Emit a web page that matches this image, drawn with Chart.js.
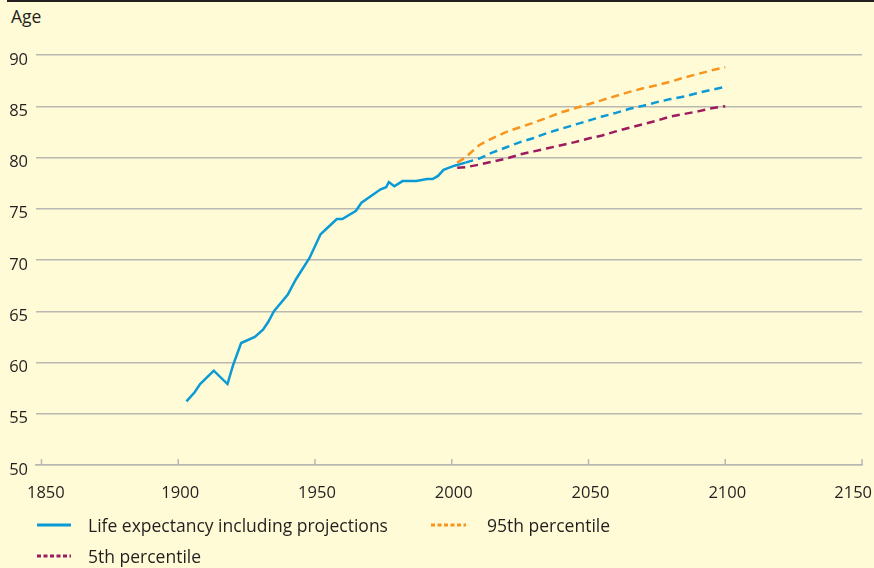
<!DOCTYPE html>
<html lang="en">

<head>
    <meta charset="UTF-8">
    <title>Life expectancy</title>
    <script src="https://cdn.jsdelivr.net/npm/chart.js"></script>
    <style>
        html, body {
            margin: 0;
            padding: 0;
            background-color: #fffbd6;
        }

        .wrap {
            position: relative;
            width: 874px;
            height: 568px;
            overflow: hidden;
            font-family: "Open Sans", sans-serif;
            color: #231f20;
        }

        .topbar {
            position: absolute;
            left: 7px;
            right: 0;
            top: 0;
            height: 2px;
            background: #231f20;
        }

        .ylabel {
            position: absolute;
            left: 11px;
            top: 4px;
            font-size: 17.5px;
        }

        .legend-item {
            position: absolute;
            font-size: 17.5px;
            line-height: 20px;
            white-space: nowrap;
        }

        .legend-item svg {
            position: absolute;
            left: 0;
            top: 8px;
        }

        .legend-item span {
            position: absolute;
            top: 0;
        }

        canvas {
            position: absolute;
            left: 0;
            top: 0;
        }
    </style>
</head>

<body>

    <div class="wrap">
        <div class="topbar"></div>
        <div class="ylabel">Age</div>
        <canvas id="myChart" width="874" height="568"></canvas>

        <!-- legend -->
        <div class="legend-item" style="left:37px; top:515px;">
            <svg width="36" height="4"><line x1="0" y1="2" x2="34" y2="2" stroke="#0b9ad6" stroke-width="3" /></svg>
            <span style="left:51px;">Life expectancy including projections</span>
        </div>
        <div class="legend-item" style="left:431px; top:515px;">
            <svg width="36" height="4"><line x1="0" y1="2" x2="35" y2="2" stroke="#f7941d" stroke-width="3" stroke-dasharray="4 2.5" /></svg>
            <span style="left:56px;">95th percentile</span>
        </div>
        <div class="legend-item" style="left:37px; top:546px;">
            <svg width="36" height="4"><line x1="0" y1="2" x2="34" y2="2" stroke="#9b1b5e" stroke-width="3" stroke-dasharray="4 2.5" /></svg>
            <span style="left:51px;">5th percentile</span>
        </div>
    </div>

    <script>
        // observed life expectancy
        const histYears = [1903, 1906, 1908, 1913, 1918, 1920, 1923, 1928, 1931, 1933, 1935, 1940, 1943, 1948,
            1952, 1954, 1958, 1960, 1965, 1967, 1974, 1976, 1977, 1979, 1982, 1987, 1991, 1993, 1995, 1997, 2001, 2005];
        const histAges = [56.2, 57.1, 57.9, 59.2, 57.9, 59.7, 61.9, 62.5, 63.2, 64.0, 65.0, 66.6, 68.1, 70.2,
            72.5, 73.0, 74.0, 74.0, 74.8, 75.6, 76.9, 77.1, 77.6, 77.2, 77.7, 77.7, 77.9, 77.9, 78.2, 78.8, 79.2, 79.5];

        // projections
        const projYears = [2002, 2005, 2010, 2015, 2020, 2025, 2030, 2035, 2040, 2045, 2050,
            2055, 2060, 2065, 2070, 2075, 2080, 2085, 2090, 2095, 2100];
        const projMid = [null, 79.5, 79.9, 80.5, 81.0, 81.5, 81.9, 82.4, 82.8, 83.2, 83.6,
            84.0, 84.35, 84.75, 85.05, 85.4, 85.7, 85.95, 86.3, 86.6, 86.9];
        const proj95 = [79.5, 80.0, 81.2, 81.9, 82.5, 82.95, 83.4, 83.9, 84.4, 84.8, 85.2,
            85.6, 86.0, 86.4, 86.75, 87.05, 87.4, 87.8, 88.15, 88.5, 88.8];
        const proj5 = [79.0, 79.05, 79.3, 79.6, 79.9, 80.3, 80.6, 80.9, 81.2, 81.5, 81.85,
            82.15, 82.55, 82.9, 83.25, 83.6, 84.0, 84.25, 84.5, 84.8, 85.0];

        const xTicks = [1850, 1900, 1950, 2000, 2050, 2100, 2150];

        const blue = '#0b9ad6';
        const orange = '#f7941d';
        const maroon = '#9b1b5e';
        const gridColor = '#b9b8b2';
        const textColor = '#231f20';

        const pts = (xs, ys) => xs.map((x, i) => ({ x: x, y: ys[i] }));

        // x labels and small upward tick marks, drawn by hand so end labels stay inside
        const xAxisMarks = {
            id: 'xAxisMarks',
            afterDraw(chart) {
                const { ctx, chartArea, scales: { x } } = chart;
                ctx.save();
                ctx.strokeStyle = gridColor;
                ctx.lineWidth = 1.5;
                ctx.fillStyle = textColor;
                ctx.font = '16.5px "Open Sans"';
                ctx.textAlign = 'center';
                ctx.textBaseline = 'middle';
                xTicks.forEach(v => {
                    const px = x.getPixelForValue(v);
                    ctx.beginPath();
                    ctx.moveTo(px, chartArea.bottom);
                    ctx.lineTo(px, chartArea.bottom - 6);
                    ctx.stroke();
                    const w = ctx.measureText(String(v)).width;
                    const lx = Math.min(Math.max(px + 2, 27 + w / 2), 872 - w / 2);
                    ctx.fillText(String(v), lx, 493);
                });
                ctx.restore();
            }
        };

        const ctx = document.getElementById('myChart').getContext('2d');
        new Chart(ctx, {
            type: 'line',
            data: {
                datasets: [
                    {
                        label: '95th percentile',
                        data: pts(projYears, proj95),
                        borderColor: orange,
                        borderWidth: 2.5,
                        borderDash: [8, 5]
                    },
                    {
                        label: '5th percentile',
                        data: pts(projYears, proj5),
                        borderColor: maroon,
                        borderWidth: 2.5,
                        borderDash: [8, 5]
                    },
                    {
                        label: 'Projection',
                        data: pts(projYears, projMid),
                        borderColor: blue,
                        borderWidth: 2.5,
                        borderDash: [8, 5]
                    },
                    {
                        label: 'Life expectancy including projections',
                        data: pts(histYears, histAges),
                        borderColor: blue,
                        borderWidth: 2.5
                    }
                ]
            },
            options: {
                responsive: false,
                animation: false,
                layout: {
                    padding: { top: 55, left: 0, right: 12, bottom: 0 }
                },
                elements: {
                    point: { radius: 0 },
                    line: { tension: 0, fill: false }
                },
                plugins: {
                    legend: { display: false },
                    tooltip: { enabled: false }
                },
                scales: {
                    x: {
                        type: 'linear',
                        min: 1848,
                        max: 2150,
                        ticks: { display: false },
                        grid: { drawOnChartArea: false, drawTicks: false },
                        border: { display: true, color: gridColor, width: 1.5 },
                        afterFit: scale => {
                            scale.height = 103;
                            scale.paddingLeft = 0;
                            scale.paddingRight = 0;
                        }
                    },
                    y: {
                        min: 50,
                        max: 90,
                        ticks: {
                            stepSize: 5,
                            padding: 8,
                            labelOffset: 5,
                            color: textColor,
                            font: { family: 'Open Sans', size: 16.5 }
                        },
                        grid: { color: gridColor, lineWidth: 1.5, drawTicks: false },
                        border: { display: false },
                        afterFit: scale => {
                            scale.width = 36;
                        }
                    }
                }
            },
            plugins: [xAxisMarks]
        });
    </script>

</body>

</html>
